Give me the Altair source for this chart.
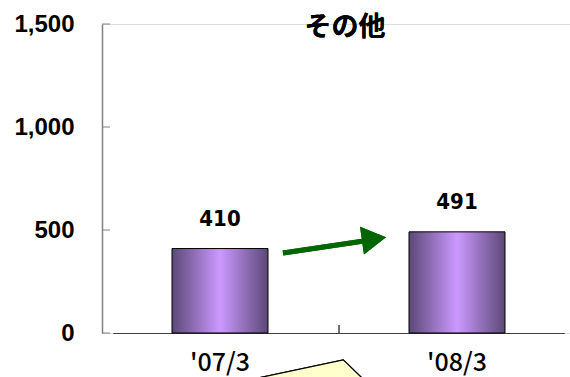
import altair as alt
import pandas as pd

categories = ["'07/3", "'08/3"]
values = [410, 491]
y_ticks = [0, 500, 1000, 1500]
title_text = "その他"

df = pd.DataFrame({"cat": categories, "val": values})
tick_df = pd.DataFrame({"t": y_ticks})

W, H = 468, 309

x_enc = alt.X("cat:N", sort=categories,
              scale=alt.Scale(paddingInner=0.595, paddingOuter=0.25, range=[10.75, 462.25]),
              axis=alt.Axis(title=None, labelAngle=0, labelFont="Noto Sans CJK JP",
                            labelFontSize=25, labelFontWeight=500, labelColor="#000000",
                            labelPadding=17, labelBaseline="top", ticks=False,
                            domainColor="#404040", domainWidth=1))
y_scale = alt.Scale(domain=[0, 1500], nice=False)

grad = {"gradient": "linear", "x1": 0, "x2": 1, "y1": 0, "y2": 0,
        "stops": [{"offset": 0, "color": "#5c4878"},
                  {"offset": 0.5, "color": "#cc99ff"},
                  {"offset": 1, "color": "#5c4878"}]}

bars = alt.Chart(df).mark_bar(color=grad, stroke="#000000", strokeWidth=1).encode(
    x=x_enc,
    y=alt.Y("val:Q", scale=y_scale,
            axis=alt.Axis(title=None, values=y_ticks, format=",d", ticks=False,
                          grid=False, labelFont="Liberation Sans", labelFontWeight="bold",
                          labelFontSize=24, labelColor="#000000", labelPadding=28,
                          domainColor="#808080", domainWidth=1.5)),
)

labels = alt.Chart(df).mark_text(font="DejaVu Sans Condensed, Noto Sans CJK JP", fontWeight="bold",
                                  fontSize=22, dy=-23, baseline="alphabetic",
                                  color="#000000").encode(
    x=alt.X("cat:N", sort=categories), y=alt.Y("val:Q", scale=y_scale), text="val:Q")

yticks = alt.Chart(tick_df).mark_rule(color="#808080", strokeWidth=1).encode(
    y=alt.Y("t:Q", scale=y_scale), x=alt.value(0), x2=alt.value(8))

midtick = alt.Chart(df).mark_rule(color="#404040", strokeWidth=1).encode(
    x=alt.value(237), y=alt.value(H - 8), y2=alt.value(H))

title = alt.Chart(df).mark_text(text=title_text, font="Noto Sans CJK JP", fontWeight="bold",
                                 fontSize=27, baseline="middle", color="#000000").encode(
    x=alt.value(243), y=alt.value(4))

arrow_line = alt.Chart(df).mark_rule(color="#006600", strokeWidth=5).encode(
    x=alt.value(181), y=alt.value(229), x2=alt.value(262), y2=alt.value(217))

arrow_head = alt.Chart(df).mark_point(shape="triangle-right", size=784, filled=True,
                                       opacity=1, color="#006600", angle=352).encode(
    x=alt.value(272), y=alt.value(215))

callout = alt.Chart(df).mark_point(shape="M -1 0 L 0.64 -0.35 L 1 0 L 1 0.6 L -1 0.6 Z",
                                    size=10816, filled=True, fill="#ffffcc", stroke="#000000",
                                    strokeWidth=1.2, opacity=1).encode(
    x=alt.value(208), y=alt.value(354))

chart = alt.layer(bars, labels, yticks, midtick, title, arrow_line, arrow_head, callout).properties(
    width=W, height=H,
    padding={"left": 102, "top": 24, "right": 0, "bottom": 44},
    autosize="none",
).configure_view(stroke=None).configure(background="#ffffff")

chart.save("out.html", embed_options={"renderer": "svg", "actions": False})
